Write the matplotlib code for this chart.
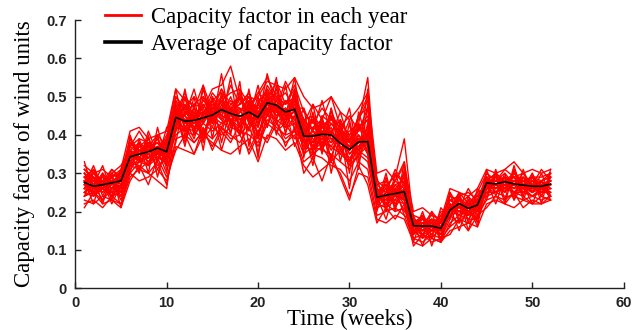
import numpy as np
import matplotlib
matplotlib.use('Agg')
import matplotlib.pyplot as plt

weeks = np.arange(1, 53)

# average capacity factor (black line)
avg_cf = [0.276, 0.266, 0.270, 0.275, 0.280, 0.343, 0.350, 0.356, 0.366, 0.356,
          0.446, 0.436, 0.438, 0.445, 0.452, 0.466, 0.456, 0.449, 0.460, 0.446,
          0.484, 0.478, 0.460, 0.467, 0.397, 0.397, 0.402, 0.400, 0.378, 0.362,
          0.382, 0.383, 0.237, 0.243, 0.247, 0.252, 0.163, 0.162, 0.162, 0.156,
          0.204, 0.221, 0.208, 0.217, 0.275, 0.272, 0.278, 0.272, 0.269, 0.266,
          0.266, 0.272]

# capacity factor of each year, in percent (estimated from the red band)
years_pct = [
    [30, 28, 26, 29, 27, 38, 36, 33, 37, 34, 48, 42, 45, 40, 47, 50, 44, 41, 49, 43, 52, 46, 44, 49, 42, 37, 44, 39, 35, 40, 36, 42, 26, 22, 27, 24, 18, 15, 17, 14, 22, 19, 23, 20, 29, 26, 28, 25, 28, 27, 24, 29],
    [25, 27, 29, 26, 30, 32, 35, 38, 34, 36, 41, 46, 43, 48, 44, 42, 47, 50, 43, 46, 49, 51, 45, 42, 37, 41, 38, 43, 40, 33, 39, 35, 22, 25, 23, 28, 15, 17, 14, 18, 19, 23, 21, 24, 27, 29, 26, 30, 27, 25, 28, 26],
    [28, 24, 27, 25, 26, 35, 33, 36, 39, 33, 45, 44, 39, 46, 42, 48, 43, 47, 45, 40, 47, 44, 49, 47, 40, 44, 36, 41, 38, 37, 42, 39, 25, 21, 26, 23, 16, 14, 18, 15, 21, 20, 19, 22, 26, 28, 29, 27, 25, 28, 27, 25],
    [31, 29, 28, 30, 32, 36, 38, 34, 35, 40, 47, 40, 46, 43, 49, 45, 50, 44, 42, 48, 45, 49, 43, 50, 44, 38, 42, 45, 36, 39, 41, 44, 24, 27, 22, 26, 17, 16, 15, 19, 23, 22, 18, 21, 28, 25, 27, 29, 26, 24, 26, 28],
    [24, 26, 25, 28, 23, 31, 34, 32, 36, 30, 43, 47, 42, 45, 48, 44, 41, 46, 50, 42, 51, 47, 41, 45, 36, 42, 40, 37, 41, 35, 37, 40, 21, 24, 25, 22, 14, 16, 17, 13, 18, 24, 20, 23, 25, 27, 25, 28, 29, 26, 25, 27],
    [29, 31, 27, 28, 29, 37, 41, 37, 38, 35, 50, 46, 48, 47, 52, 53, 58, 49, 47, 51, 55, 50, 48, 53, 46, 43, 47, 44, 42, 38, 45, 47, 28, 26, 30, 27, 19, 18, 17, 16, 24, 23, 22, 25, 30, 28, 30, 27, 28, 29, 29, 30],
    [23, 22, 24, 23, 22, 29, 31, 30, 33, 27, 39, 40, 38, 41, 39, 42, 40, 38, 42, 37, 43, 41, 38, 40, 33, 35, 34, 32, 31, 28, 33, 31, 19, 20, 21, 19, 13, 12, 14, 13, 16, 18, 17, 19, 23, 24, 23, 25, 24, 22, 24, 23],
    [27, 26, 28, 26, 25, 33, 32, 30, 28, 26, 44, 45, 41, 44, 46, 47, 43, 45, 44, 39, 48, 45, 47, 44, 38, 40, 39, 42, 36, 34, 37, 38, 23, 24, 24, 25, 16, 15, 16, 15, 20, 21, 20, 22, 27, 26, 27, 26, 27, 27, 26, 27],
    [26, 25, 23, 26, 27, 34, 37, 39, 35, 38, 46, 43, 47, 41, 44, 49, 46, 43, 48, 45, 49, 48, 42, 47, 41, 36, 43, 40, 39, 37, 35, 43, 24, 23, 28, 26, 17, 18, 15, 17, 21, 25, 22, 20, 28, 27, 29, 28, 26, 25, 28, 29],
    [30, 27, 29, 27, 28, 35, 34, 37, 33, 39, 42, 48, 44, 46, 45, 43, 48, 47, 41, 47, 50, 46, 49, 46, 39, 44, 41, 38, 43, 36, 40, 37, 23, 26, 21, 25, 15, 17, 16, 14, 22, 20, 23, 19, 26, 29, 28, 26, 27, 28, 25, 26],
    [27, 30, 28, 31, 29, 34, 36, 35, 37, 36, 45, 41, 44, 47, 43, 50, 45, 44, 46, 48, 46, 52, 45, 48, 43, 39, 37, 41, 44, 39, 36, 41, 26, 22, 24, 27, 18, 16, 13, 16, 20, 22, 24, 21, 29, 27, 26, 27, 30, 26, 27, 28],
    [25, 28, 26, 24, 27, 30, 33, 34, 35, 32, 47, 44, 42, 43, 47, 45, 44, 42, 47, 44, 48, 47, 43, 49, 35, 40, 42, 39, 37, 32, 40, 36, 22, 25, 25, 23, 16, 15, 17, 14, 19, 22, 21, 23, 26, 26, 28, 29, 25, 27, 26, 24],
    [29, 27, 30, 27, 31, 36, 35, 36, 38, 34, 43, 46, 45, 48, 44, 46, 49, 46, 45, 42, 50, 45, 47, 43, 40, 38, 45, 43, 40, 38, 43, 39, 25, 24, 22, 26, 14, 17, 18, 16, 21, 24, 19, 22, 27, 28, 27, 28, 28, 29, 27, 26],
    [28, 26, 27, 29, 30, 39, 36, 37, 40, 37, 49, 43, 47, 45, 51, 48, 46, 48, 51, 45, 53, 49, 51, 47, 47, 41, 40, 46, 41, 40, 44, 49, 27, 28, 25, 29, 17, 19, 16, 17, 25, 21, 22, 24, 28, 30, 28, 26, 29, 27, 28, 30],
    [24, 25, 26, 25, 24, 32, 31, 33, 34, 33, 40, 42, 41, 39, 42, 40, 42, 41, 40, 38, 44, 42, 40, 41, 35, 37, 36, 35, 33, 31, 35, 33, 21, 22, 20, 21, 13, 14, 13, 12, 17, 19, 18, 18, 24, 25, 24, 24, 23, 24, 23, 24],
    [27, 28, 25, 28, 26, 35, 34, 38, 36, 35, 46, 45, 43, 44, 46, 44, 47, 43, 48, 43, 47, 46, 45, 46, 38, 40, 41, 40, 38, 37, 38, 38, 24, 23, 26, 24, 16, 16, 17, 16, 20, 22, 21, 21, 27, 27, 28, 27, 27, 26, 27, 27],
    [28, 29, 27, 26, 28, 33, 37, 35, 34, 37, 44, 47, 46, 44, 45, 49, 45, 47, 45, 46, 49, 47, 46, 48, 41, 42, 44, 40, 39, 41, 43, 55, 24, 27, 29, 39, 17, 15, 16, 15, 22, 20, 21, 20, 28, 26, 27, 27, 26, 27, 26, 28],
    [26, 27, 28, 27, 29, 34, 35, 34, 36, 37, 45, 43, 44, 46, 43, 47, 46, 44, 47, 46, 48, 48, 45, 46, 39, 38, 40, 41, 37, 36, 39, 40, 24, 24, 25, 25, 16, 17, 16, 16, 21, 21, 20, 22, 27, 28, 27, 28, 26, 27, 27, 28],
    [30, 26, 28, 29, 25, 36, 33, 36, 35, 38, 48, 42, 45, 46, 48, 47, 44, 46, 49, 47, 47, 46, 44, 45, 41, 37, 39, 38, 41, 38, 37, 40, 25, 26, 24, 23, 15, 16, 18, 17, 19, 23, 20, 23, 26, 27, 29, 27, 28, 25, 26, 28],
    [29, 28, 26, 27, 28, 35, 36, 36, 37, 36, 44, 44, 43, 45, 44, 46, 47, 45, 45, 44, 48, 48, 46, 47, 40, 40, 39, 39, 40, 37, 38, 39, 23, 25, 28, 33, 16, 15, 16, 17, 20, 23, 21, 22, 28, 27, 28, 27, 27, 27, 26, 27],
    [32, 30, 31, 29, 31, 41, 42, 39, 40, 41, 52, 49, 48, 50, 47, 49, 51, 52, 48, 50, 54, 53, 52, 55, 50, 47, 48, 50, 46, 44, 47, 51, 30, 31, 28, 32, 20, 21, 19, 18, 26, 25, 24, 26, 31, 30, 31, 33, 30, 31, 30, 31],
    [22, 23, 21, 24, 22, 30, 28, 29, 31, 28, 37, 36, 35, 40, 38, 36, 35, 37, 39, 33, 40, 39, 36, 38, 32, 29, 31, 33, 30, 24, 30, 29, 18, 17, 19, 18, 12, 11, 13, 12, 15, 16, 17, 16, 22, 23, 22, 21, 23, 22, 22, 23],
    [31, 29, 27, 30, 28, 37, 39, 38, 36, 39, 50, 47, 50, 46, 49, 51, 47, 48, 50, 49, 51, 50, 48, 50, 44, 45, 42, 44, 43, 40, 42, 45, 26, 25, 27, 28, 18, 17, 19, 18, 23, 24, 25, 23, 29, 29, 28, 30, 28, 29, 28, 29],
    [25, 24, 26, 24, 25, 32, 33, 32, 34, 34, 42, 41, 40, 43, 41, 43, 44, 40, 43, 41, 45, 44, 42, 43, 37, 36, 38, 37, 35, 33, 36, 34, 22, 21, 23, 22, 15, 14, 15, 15, 19, 20, 19, 20, 25, 25, 26, 25, 25, 24, 25, 25],
    [26, 31, 24, 29, 25, 40, 33, 41, 35, 39, 52, 41, 50, 38, 49, 44, 55, 40, 52, 39, 50, 44, 53, 41, 47, 35, 45, 33, 44, 30, 46, 38, 29, 20, 30, 23, 19, 13, 20, 12, 25, 17, 24, 18, 31, 24, 30, 23, 31, 25, 30, 24],
    [33, 25, 30, 24, 31, 30, 39, 32, 40, 31, 38, 50, 40, 53, 39, 51, 42, 54, 37, 49, 45, 55, 40, 52, 34, 46, 36, 47, 33, 43, 31, 48, 20, 29, 21, 31, 12, 19, 11, 18, 16, 24, 15, 23, 24, 31, 23, 32, 24, 30, 22, 31],
    [28, 22, 30, 23, 29, 36, 30, 40, 29, 38, 46, 37, 48, 36, 50, 38, 47, 35, 49, 34, 51, 40, 47, 37, 42, 32, 44, 30, 41, 26, 43, 35, 24, 18, 26, 19, 17, 11, 18, 12, 21, 15, 22, 16, 28, 22, 29, 23, 27, 22, 28, 23],
    [24, 29, 22, 30, 21, 32, 38, 30, 42, 33, 41, 52, 40, 50, 43, 56, 42, 51, 44, 53, 42, 50, 45, 55, 38, 48, 37, 45, 40, 47, 34, 52, 22, 30, 20, 33, 14, 20, 13, 21, 18, 25, 17, 26, 23, 30, 22, 31, 23, 29, 24, 30],
    [30, 27, 32, 25, 29, 37, 35, 39, 34, 36, 49, 45, 52, 43, 50, 46, 53, 48, 51, 44, 56, 47, 54, 49, 44, 41, 49, 40, 46, 38, 45, 50, 27, 25, 31, 27, 18, 16, 20, 17, 23, 21, 26, 22, 30, 28, 31, 29, 30, 27, 31, 28],
    [21, 25, 22, 23, 21, 28, 32, 27, 34, 29, 36, 40, 35, 42, 36, 41, 38, 43, 35, 40, 39, 44, 37, 42, 30, 34, 28, 35, 29, 23, 32, 27, 17, 21, 18, 22, 11, 14, 12, 13, 14, 18, 15, 19, 21, 24, 22, 25, 21, 23, 22, 24],
    [27, 32, 26, 31, 28, 35, 31, 38, 33, 42, 44, 48, 41, 52, 44, 49, 40, 52, 43, 50, 42, 53, 44, 51, 40, 45, 35, 47, 38, 44, 33, 41, 23, 28, 24, 30, 16, 19, 15, 20, 20, 24, 19, 25, 26, 30, 25, 31, 26, 30, 25, 29],
    [29, 24, 28, 22, 27, 39, 34, 37, 31, 35, 47, 38, 45, 39, 46, 36, 44, 40, 47, 35, 46, 41, 43, 39, 43, 36, 40, 34, 42, 33, 39, 36, 26, 21, 25, 20, 18, 14, 17, 13, 22, 18, 23, 17, 29, 25, 28, 24, 29, 25, 28, 24],
    [25, 27, 23, 28, 24, 33, 36, 34, 37, 32, 45, 50, 47, 53, 46, 52, 48, 50, 46, 51, 49, 54, 48, 52, 43, 48, 44, 50, 42, 45, 41, 47, 25, 27, 26, 29, 16, 18, 17, 19, 21, 23, 22, 24, 27, 29, 26, 30, 27, 29, 26, 29],
    [31, 28, 29, 27, 30, 38, 35, 37, 35, 37, 43, 42, 38, 41, 37, 42, 39, 40, 36, 41, 38, 43, 39, 41, 38, 35, 37, 33, 36, 32, 35, 37, 24, 22, 25, 23, 15, 13, 15, 14, 19, 17, 20, 18, 26, 25, 27, 25, 26, 24, 26, 25],
    [26, 30, 27, 28, 26, 34, 38, 36, 39, 35, 46, 51, 44, 49, 47, 52, 46, 50, 45, 48, 52, 49, 46, 50, 41, 44, 40, 43, 41, 36, 42, 44, 24, 27, 25, 30, 17, 18, 16, 18, 21, 22, 21, 23, 27, 28, 27, 29, 27, 28, 27, 28],
    [28, 25, 28, 26, 29, 36, 33, 35, 32, 34, 44, 39, 46, 40, 45, 41, 47, 42, 46, 40, 47, 43, 46, 44, 39, 34, 41, 36, 40, 35, 38, 42, 25, 23, 24, 26, 17, 15, 16, 15, 21, 19, 22, 20, 28, 26, 28, 25, 27, 26, 28, 26],
]

fig = plt.figure(figsize=(6.43, 3.30), dpi=100)
ax = fig.add_axes([0.117, 0.127, 0.853, 0.812])

for i, row in enumerate(years_pct):
    lab = 'Capacity factor in each year' if i == 0 else None
    ax.plot(weeks, np.array(row) / 100.0, color='#ff0000', lw=1.0, label=lab)
ax.plot(weeks, avg_cf, color='black', lw=1.2, label='Average of capacity factor')

ax.set_xlim(0, 60)
ax.set_ylim(0, 0.7)
ax.set_xticks(np.arange(0, 61, 10))
ax.set_yticks(np.arange(0, 0.71, 0.1))
ax.set_yticklabels(['0', '0.1', '0.2', '0.3', '0.4', '0.5', '0.6', '0.7'])
ax.spines['top'].set_visible(False)
ax.spines['right'].set_visible(False)
for s in ['left', 'bottom']:
    ax.spines[s].set_color('#222222')
    ax.spines[s].set_linewidth(1.0)
ax.tick_params(direction='in', length=4, width=1, pad=6, colors='#222222')
for t in ax.get_xticklabels() + ax.get_yticklabels():
    t.set_fontfamily('Liberation Sans')
    t.set_fontweight('bold')
    t.set_fontsize(10.5)

ax.set_xlabel('Time (weeks)', family='Liberation Serif', fontsize=16.5, labelpad=-1)
ax.set_ylabel('Capacity factor of wind units', family='Liberation Serif', fontsize=16.5, labelpad=8)

leg = fig.legend(loc='upper left', bbox_to_anchor=(105 / 643, 1 - 7 / 330),
                 frameon=False, prop={'family': 'Liberation Serif', 'size': 16.5},
                 handlelength=1.55, handletextpad=0.45, labelspacing=0.25,
                 borderpad=0, borderaxespad=0)
leg.get_lines()[0].set_linewidth(2.0)
leg.get_lines()[1].set_linewidth(2.6)

fig.savefig('out.png', dpi=100)
